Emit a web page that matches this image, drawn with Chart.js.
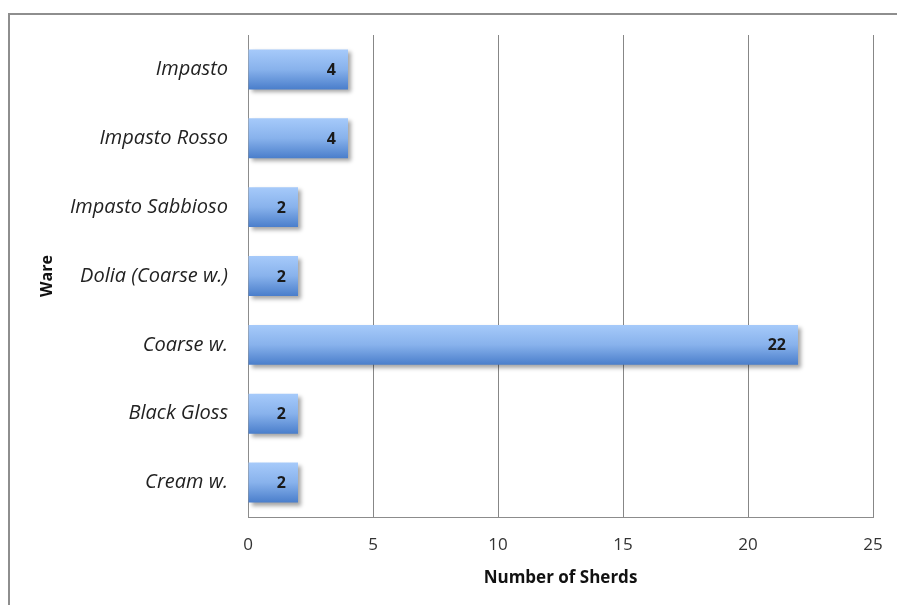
<!DOCTYPE html>
<html lang="en">
<head>
  <meta charset="UTF-8">
  <title>Sherds by Ware</title>
  <script src="https://cdn.jsdelivr.net/npm/chart.js"></script>
  <style>
    body {
      margin: 0;
      background: #fff;
      overflow: hidden;
    }
    .frame {
      position: absolute;
      left: 8px;
      top: 13px;
      width: 1000px;
      height: 1000px;
      border: 2px solid #8e8e8e;
    }
    .wrap {
      position: absolute;
      left: 0;
      top: 0;
      width: 897px;
      height: 605px;
    }
  </style>
</head>
<body>

<div class="frame"></div>
<div class="wrap"><canvas id="wareChart" width="897" height="605"></canvas></div>

<script>
  const wares = ['Impasto', 'Impasto Rosso', 'Impasto Sabbioso', 'Dolia (Coarse w.)', 'Coarse w.', 'Black Gloss', 'Cream w.'];
  const sherds = [4, 4, 2, 2, 22, 2, 2];
  const xTicks = [0, 5, 10, 15, 20, 25];

  const FONT = "'Open Sans', 'DejaVu Sans', sans-serif";
  const BAR_PCT = 0.58;

  // soft drop shadow under the bars
  const barShadow = {
    id: 'barShadow',
    beforeDatasetsDraw(chart) {
      const ctx = chart.ctx;
      ctx.save();
      ctx.shadowColor = 'rgba(0,0,0,0.35)';
      ctx.shadowBlur = 4;
      ctx.shadowOffsetX = 3;
      ctx.shadowOffsetY = 3;
    },
    afterDatasetsDraw(chart) {
      chart.ctx.restore();
    }
  };

  // value labels at the inside end of each bar
  const endLabels = {
    id: 'endLabels',
    afterDatasetsDraw(chart) {
      const ctx = chart.ctx;
      const meta = chart.getDatasetMeta(0);
      ctx.save();
      ctx.font = 'bold 16px ' + FONT;
      ctx.fillStyle = '#1a1a1a';
      ctx.textAlign = 'right';
      ctx.textBaseline = 'middle';
      meta.data.forEach((bar, i) => {
        ctx.fillText(String(sherds[i]), bar.x - 12, bar.y + 1);
      });
      ctx.restore();
    }
  };

  const ctx = document.getElementById('wareChart').getContext('2d');
  new Chart(ctx, {
    type: 'bar',
    data: {
      labels: wares,
      datasets: [{
        data: sherds,
        backgroundColor(c) {
          const chart = c.chart;
          const y = chart.scales && chart.scales.y;
          if (!y || !chart.chartArea) return '#7aa6e4';
          const mid = y.getPixelForValue(c.dataIndex);
          const half = BAR_PCT * (chart.chartArea.height / wares.length) / 2;
          const g = chart.ctx.createLinearGradient(0, mid - half, 0, mid + half);
          g.addColorStop(0, '#a6cafa');
          g.addColorStop(0.5, '#88b2ec');
          g.addColorStop(1, '#4a7ecb');
          return g;
        },
        borderWidth: 0,
        categoryPercentage: 1,
        barPercentage: BAR_PCT
      }]
    },
    options: {
      indexAxis: 'y',
      responsive: false,
      animation: false,
      layout: { padding: { left: 0, right: 24, top: 35, bottom: 0 } },
      plugins: {
        legend: { display: false },
        tooltip: { enabled: false }
      },
      scales: {
        x: {
          min: 0,
          max: 25,
          afterBuildTicks(scale) {
            scale.ticks = xTicks.map(v => ({ value: v }));
          },
          afterFit(scale) {
            scale.height = 88;
            scale.paddingLeft = 0;
            scale.paddingRight = 0;
          },
          grid: { color: '#878787', lineWidth: 1, drawTicks: false },
          border: { color: '#8c8c8c', width: 1 },
          ticks: {
            padding: 18,
            color: '#333',
            font: { family: FONT, size: 17 }
          },
          title: {
            display: true,
            text: 'Number of Sherds',
            color: '#111',
            font: { family: FONT, size: 17, weight: 'bold' },
            padding: { top: 0, bottom: 17 }
          }
        },
        y: {
          afterFit(scale) { scale.width = 248; },
          grid: { display: false, drawTicks: false },
          border: { color: '#8c8c8c', width: 1 },
          ticks: {
            padding: 20,
            color: '#222',
            font: { family: FONT, size: 20, style: 'italic' }
          },
          title: {
            display: true,
            text: 'Ware',
            color: '#111',
            font: { family: FONT, size: 16, weight: 'bold' },
            padding: { top: 38, bottom: 0 }
          }
        }
      }
    },
    plugins: [barShadow, endLabels]
  });
</script>
</body>
</html>
